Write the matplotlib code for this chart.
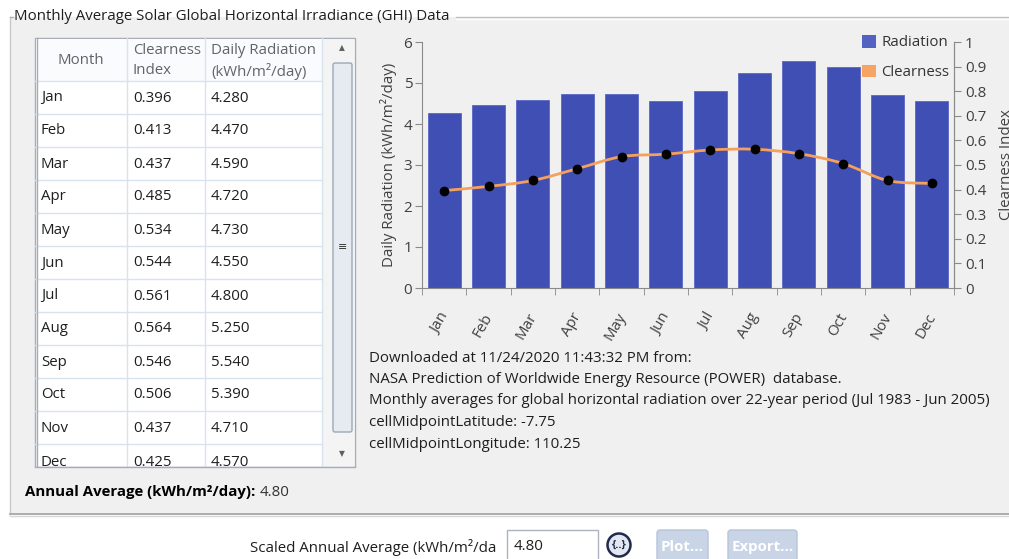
import matplotlib
matplotlib.use("Agg")
import matplotlib.pyplot as plt
from matplotlib.patches import Rectangle, Circle, FancyBboxPatch, Patch, PathPatch
from matplotlib.path import Path
from matplotlib.transforms import ScaledTranslation

plt.rcParams["font.family"] = ["Open Sans", "DejaVu Sans"]

# data
months = ["Jan", "Feb", "Mar", "Apr", "May", "Jun", "Jul", "Aug", "Sep", "Oct", "Nov", "Dec"]
clearness = [0.396, 0.413, 0.437, 0.485, 0.534, 0.544, 0.561, 0.564, 0.546, 0.506, 0.437, 0.425]
radiation = [4.280, 4.470, 4.590, 4.720, 4.730, 4.550, 4.800, 5.250, 5.540, 5.390, 4.710, 4.570]
annual_avg = "4.80"
info_lines = [
    "Downloaded at 11/24/2020 11:43:32 PM from:",
    "NASA Prediction of Worldwide Energy Resource (POWER)  database.",
    "Monthly averages for global horizontal radiation over 22-year period (Jul 1983 - Jun 2005)",
    "cellMidpointLatitude: -7.75",
    "cellMidpointLongitude: 110.25",
]

W, H = 1009, 559
fig = plt.figure(figsize=(W / 100, H / 100), dpi=100)
fig.patch.set_facecolor("white")

# background axes in pixel coordinates for the window controls
bg = fig.add_axes([0, 0, 1, 1])
bg.set_xlim(0, W)
bg.set_ylim(H, 0)
bg.axis("off")

txt = "#1e1e1e"
fs = 10.8

# group box
bg.add_patch(Rectangle((10, 17), W - 10, 497, facecolor="#f0f0f0", edgecolor="none"))
bg.plot([10, 10], [17, 514], color="#c8c8c8", lw=1)
bg.plot([10, 13], [17, 17], color="#b0b0b0", lw=1)
bg.plot([456, W], [17, 17], color="#c0c0c0", lw=1)
bg.plot([456, W], [18.5, 18.5], color="white", lw=1)
bg.plot([10, W], [514, 514], color="#a0a0a0", lw=1.2)
bg.plot([10, W], [516, 516], color="#d6d6d6", lw=1)
bg.text(14, 17, "Monthly Average Solar Global Horizontal Irradiance (GHI) Data",
        fontsize=fs, color=txt, va="center", ha="left")

# table
tx0, tx1, ty0, ty1 = 35, 355, 38, 467
col_x = [35, 127, 205, 322]
bg.add_patch(Rectangle((tx0, ty0), tx1 - tx0, ty1 - ty0, facecolor="white", edgecolor="#a8adb5", lw=1))
bg.add_patch(Rectangle((tx0 + 1, ty0 + 1), 321 - tx0, 42, facecolor="#f9fbfd", edgecolor="none"))
grid_c = "#d8e3f0"
head_bottom = 81
row_h = 33
for i in range(12):
    yl = head_bottom + row_h * (i + 1)
    if yl < ty1:
        bg.plot([tx0, 322], [yl, yl], color=grid_c, lw=1)
bg.plot([tx0, 322], [head_bottom, head_bottom], color=grid_c, lw=1)
for cx in col_x[1:]:
    bg.plot([cx, cx], [ty0, ty1], color=grid_c, lw=1)
bg.plot([37, 37], [ty0, ty1], color="#a8adb5", lw=1)

head_c = "#606468"
bg.text(81, 61, "Month", fontsize=fs, color=head_c, ha="center", va="center")
bg.text(133, 50, "Clearness", fontsize=fs, color=head_c, ha="left", va="center")
bg.text(133, 71, "Index", fontsize=fs, color=head_c, ha="left", va="center")
bg.text(211, 50, "Daily Radiation", fontsize=fs, color=head_c, ha="left", va="center")
bg.text(211, 71, "(kWh/m²/day)", fontsize=fs, color=head_c, ha="left", va="center")

for i, m in enumerate(months):
    yc = head_bottom + row_h * i + 17
    for x, s in [(41, m), (133, f"{clearness[i]:.3f}"), (211, f"{radiation[i]:.3f}")]:
        bg.text(x, yc + (2 if i == 11 else 0), s, fontsize=fs, color=txt, ha="left", va="center")
# strip below the table hides the bottom of the last row
bg.add_patch(Rectangle((tx0 - 1, ty1 + 0.5), tx1 - tx0 + 2, 10, facecolor="#f0f0f0",
                       edgecolor="none", zorder=4))
bg.plot([tx0, tx1], [ty1, ty1], color="#a8adb5", lw=1, zorder=5)

# scrollbar
bg.add_patch(Rectangle((323, ty0 + 1), 31, ty1 - ty0 - 2, facecolor="#f4f4f4", edgecolor="none"))
bg.add_patch(FancyBboxPatch((333, 63), 19, 369, boxstyle="round,pad=0,rounding_size=2",
                            facecolor="#e6ebf2", edgecolor="#9ba7b8", lw=1))
bg.text(342.5, 247, "≡", fontsize=8, color="#333", ha="center", va="center", family="DejaVu Sans")
bg.text(342, 48, "▲", fontsize=5.5, color="#606060", ha="center", va="center", family="DejaVu Sans")
bg.text(342, 454, "▼", fontsize=5.5, color="#606060", ha="center", va="center", family="DejaVu Sans")

# annual average
t1 = bg.text(25, 492, "Annual Average (kWh/m²/day):", fontsize=fs, color="black",
             fontweight="bold", ha="left", va="center")
fig.canvas.draw()
bb = t1.get_window_extent()
x_end = bg.transData.inverted().transform((bb.x1, 0))[0]
bg.text(x_end + 4, 492, annual_avg, fontsize=fs, color="#333", ha="left", va="center")

# info text under chart
for i, line in enumerate(info_lines):
    bg.text(369, 358 + 21.5 * i, line, fontsize=fs, color=txt, ha="left", va="center")

# bottom controls
bg.text(250, 547, "Scaled Annual Average (kWh/m²/da", fontsize=fs, color=txt,
        ha="left", va="center")
bg.add_patch(Rectangle((507, 530), 91, 32, facecolor="white", edgecolor="#abb3c0", lw=1, zorder=4))
bg.text(514, 547, annual_avg, fontsize=fs, color=txt, ha="left", va="center", zorder=5)
bg.add_patch(Circle((619, 545), 11.5, facecolor="#e3e8f0", edgecolor="#1f2b4d", lw=1.8))
bg.text(619, 545, "{..}", fontsize=8, color="#1f2b4d", fontweight="bold", ha="center", va="center")
for x0, w, label in [(657, 51, "Plot..."), (728, 69, "Export...")]:
    bg.add_patch(FancyBboxPatch((x0, 530), w, 32, boxstyle="round,pad=0,rounding_size=3",
                                facecolor="#c9d5e7", edgecolor="#b6c4da", lw=1))
    bg.text(x0 + w / 2, 547, label, fontsize=fs, color="white", fontweight="bold",
            ha="center", va="center")

# chart
bar_c = "#3f4fb4"
line_c = "#f5a05c"
axis_c = "#8a8a8a"
lab_c = "#404040"
ax = fig.add_axes([422 / W, 1 - 288 / H, (954 - 422) / W, (288 - 42) / H])
ax.patch.set_alpha(0)
xs = list(range(len(months)))
ax.bar(xs, radiation, width=0.74, color=bar_c, edgecolor="#5a68c4", lw=0.6, zorder=2)
ax.set_xlim(-0.5, len(months) - 0.5)
ax.set_ylim(0, 6)
ax.set_yticks(range(0, 7))
ax.set_xticks(xs)
ax.set_xticklabels(months, rotation=60, ha="right", rotation_mode="anchor")
ax.set_xticks([x + 0.5 for x in [-1] + xs], minor=True)
ax.tick_params(axis="x", which="major", length=0, pad=16, labelsize=10.8, labelcolor=lab_c)
ax.tick_params(axis="x", which="minor", length=5, color=axis_c)
ax.tick_params(axis="y", length=5, color=axis_c, labelsize=11, labelcolor=lab_c, pad=2)
for lbl in ax.get_xticklabels():
    lbl.set_transform(lbl.get_transform() + ScaledTranslation(-4 / 72, 0, fig.dpi_scale_trans))
for s in ["left", "bottom", "right"]:
    ax.spines[s].set_color(axis_c)
ax.spines["top"].set_visible(False)
ax.set_ylabel("Daily Radiation (kWh/m²/day)", fontsize=fs, color=lab_c, labelpad=5)

ax2 = ax.twinx()
ax2.set_ylim(0, 1)
ax2.set_yticks([i / 10 for i in range(11)])
ax2.set_yticklabels(["0"] + [f"{i / 10:.1f}" for i in range(1, 10)] + ["1"])
ax2.tick_params(axis="y", length=5, color=axis_c, labelsize=11, labelcolor=lab_c, pad=3)
for s in ["left", "bottom", "top"]:
    ax2.spines[s].set_visible(False)
ax2.spines["right"].set_color(axis_c)
ax2.set_ylabel("Clearness Index", fontsize=fs, color=lab_c, labelpad=9)

# smooth clearness curve (Catmull-Rom through the data points)
pts = list(zip(xs, clearness))
verts = [pts[0]]
codes = [Path.MOVETO]
for i in range(len(pts) - 1):
    p0 = pts[max(i - 1, 0)]
    p1 = pts[i]
    p2 = pts[i + 1]
    p3 = pts[min(i + 2, len(pts) - 1)]
    c1 = (p1[0] + (p2[0] - p0[0]) / 6, p1[1] + (p2[1] - p0[1]) / 6)
    c2 = (p2[0] - (p3[0] - p1[0]) / 6, p2[1] - (p3[1] - p1[1]) / 6)
    verts += [c1, c2, p2]
    codes += [Path.CURVE4] * 3
ax2.add_patch(PathPatch(Path(verts, codes), facecolor="none", edgecolor=line_c, lw=2, zorder=3))
ax2.plot(xs, clearness, "o", color="black", markersize=6, zorder=4)

ax2.legend(handles=[Patch(facecolor="#5262c2", label="Radiation"),
                    Patch(facecolor="#f7a463", label="Clearness")],
           loc="upper right", bbox_to_anchor=(1.016, 1.083), frameon=False,
           handlelength=0.9, handleheight=0.9, handletextpad=0.35, labelspacing=0.95,
           fontsize=fs, labelcolor="#333")

fig.savefig("out.png", dpi=100, facecolor="white")
